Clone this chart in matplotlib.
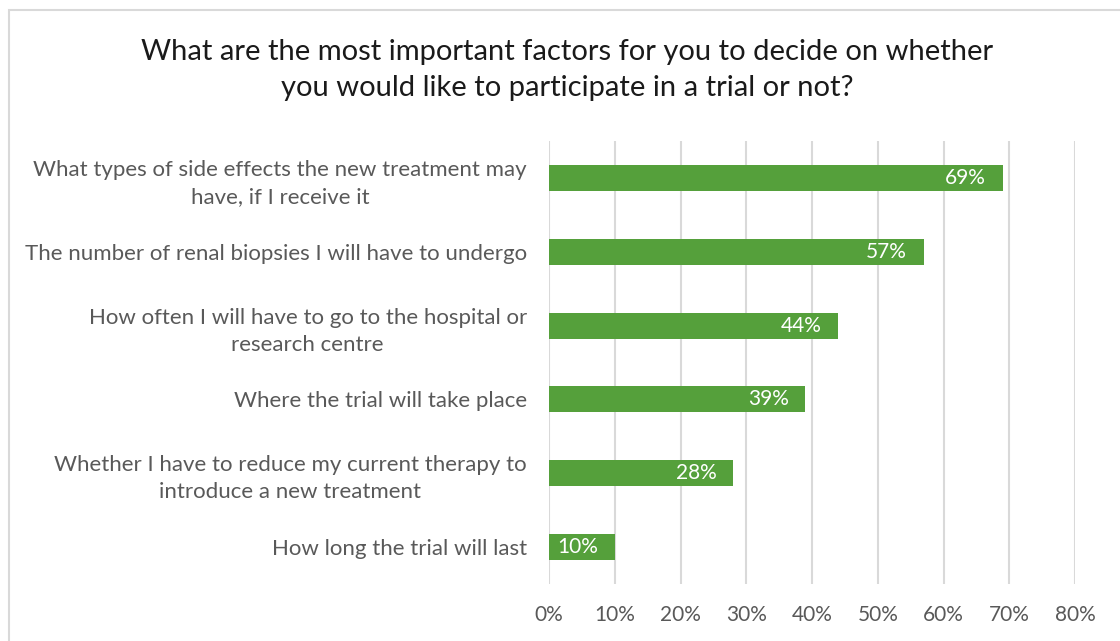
import matplotlib.pyplot as plt
from matplotlib.patches import Rectangle
from matplotlib.ticker import FuncFormatter

factors = [
    "What types of side effects the new treatment may\nhave, if I receive it",
    "The number of renal biopsies I will have to undergo",
    "How often I will have to go to the hospital or\nresearch centre",
    "Where the trial will take place",
    "Whether I have to reduce my current therapy to\nintroduce a new treatment",
    "How long the trial will last",
]
shares = [69, 57, 44, 39, 28, 10]
xticks = [0, 10, 20, 30, 40, 50, 60, 70, 80]

green = "#55A03B"
grey_text = "#595959"
grid_col = "#D9D9D9"

plt.rcParams["font.family"] = ["Lato", "DejaVu Sans"]

W, H = 1120, 641
fig = plt.figure(figsize=(W / 100, H / 100), dpi=100)
ax = fig.add_axes([549 / W, 1 - 584 / H, (1075 - 549) / W, (584 - 141) / H])

# outer chart border (runs off the right and bottom edges)
fig.patches.append(Rectangle((8.5 / W, -0.05), 1.2, 1 - 9.5 / H + 0.05,
                             transform=fig.transFigure, fill=False,
                             edgecolor=grid_col, linewidth=1.5))

y = list(range(len(factors)))
ax.barh(y, shares, height=0.35, color=green, zorder=3)
for yi, v in zip(y, shares):
    ax.annotate(f"{v}%", (v, yi), xytext=(-12, 0), textcoords="offset points",
                ha="right", va="center", color="white", fontsize=15, zorder=4)

ax.set_ylim(len(factors) - 0.5, -0.5)
ax.set_xlim(0, 80)
ax.set_xticks(xticks)
ax.xaxis.set_major_formatter(FuncFormatter(lambda v, _: f"{v:.0f}%"))
ax.set_yticks(y)
ax.set_yticklabels(factors, multialignment="center", linespacing=1.45)
ax.tick_params(axis="y", length=0, pad=16, labelsize=16, labelcolor=grey_text)
ax.tick_params(axis="x", length=0, pad=15, labelsize=15, labelcolor=grey_text)
ax.grid(axis="x", color=grid_col, linewidth=1.5, zorder=0)
for s in ax.spines.values():
    s.set_visible(False)

fig.text(567 / W, 1 - 70 / H,
         "What are the most important factors for you to decide on whether\n"
         "you would like to participate in a trial or not?",
         ha="center", va="center", fontsize=21, color="#1a1a1a",
         linespacing=1.5)

fig.savefig("out.png", dpi=100, facecolor="white")
